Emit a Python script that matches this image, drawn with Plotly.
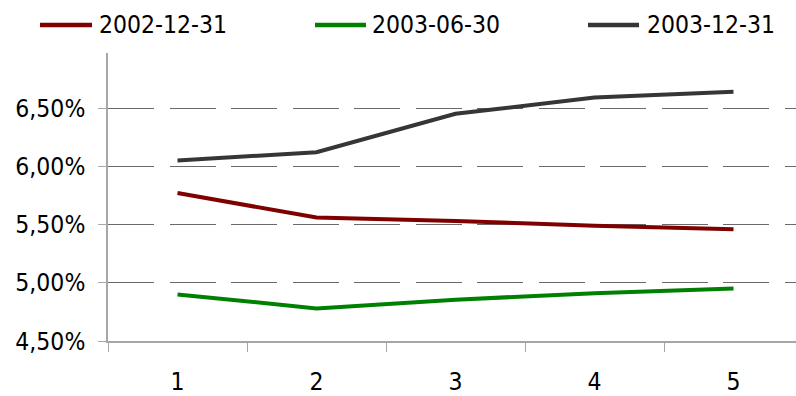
import plotly.graph_objects as go

# Maturity buckets (years) and yield curves at three dates, in percent
maturities = [1, 2, 3, 4, 5]
series_names = ["2002-12-31", "2003-06-30", "2003-12-31"]
yields_2002_12 = [5.77, 5.56, 5.53, 5.49, 5.46]
yields_2003_06 = [4.90, 4.78, 4.855, 4.91, 4.95]
yields_2003_12 = [6.05, 6.12, 6.45, 6.59, 6.64]
series_colors = ["#800000", "#008000", "#363636"]

y_ticks = [4.5, 5.0, 5.5, 6.0, 6.5]
y_tick_labels = ["4,50%", "5,00%", "5,50%", "6,00%", "6,50%"]

FONT = "DejaVu Sans Condensed, Liberation Sans Narrow, DejaVu Sans"
FONT_SIZE = 24.5
W, H = 796, 396
M_L, M_R, M_T, M_B = 108, 0, 53, 55
plot_w = W - M_L - M_R
plot_h = H - M_T - M_B

fig = go.Figure()
for name, vals, col in zip(series_names,
                           [yields_2002_12, yields_2003_06, yields_2003_12],
                           series_colors):
    fig.add_trace(go.Scatter(x=maturities, y=vals, name=name, mode="lines",
                             line=dict(color=col, width=4),
                             showlegend=False))

# Legend drawn as line swatches plus labels across the top
legend_x = [(40, 92, 97), (315, 366, 370), (588, 639, 645)]
legend_y = 25
to_px = lambda px: (px - M_L) / plot_w
to_py = lambda py: (H - M_B - py) / plot_h
for (x0, x1, xt), name, col in zip(legend_x, series_names, series_colors):
    fig.add_shape(type="line", xref="paper", yref="paper",
                  x0=to_px(x0), x1=to_px(x1), y0=to_py(legend_y), y1=to_py(legend_y),
                  line=dict(color=col, width=4.5))
    fig.add_annotation(xref="paper", yref="paper", x=to_px(xt), y=to_py(legend_y),
                       text=name, showarrow=False, xanchor="left", yanchor="middle",
                       font=dict(family=FONT, size=FONT_SIZE, color="#000000"))

px_per_unit_y = 116.5
fig.update_layout(
    width=W, height=H,
    margin=dict(l=M_L, r=M_R, t=M_T, b=M_B, pad=0),
    paper_bgcolor="white", plot_bgcolor="white",
    font=dict(family=FONT, size=FONT_SIZE, color="#000000"),
    xaxis=dict(
        range=[0.5, 0.5 + plot_w / 139.0],
        tickvals=maturities, ticktext=[str(m) for m in maturities],
        ticks="", showgrid=False, zeroline=False, automargin=False,
        showline=True, linecolor="#a6a6a6", linewidth=1.5,
        ticklabelstandoff=18,
        minor=dict(tickmode="array", tickvals=[0.5, 1.5, 2.5, 3.5, 4.5, 5.5],
                   ticks="outside", ticklen=9, tickcolor="#a6a6a6", tickwidth=1,
                   showgrid=False),
    ),
    yaxis=dict(
        range=[4.5, 4.5 + plot_h / px_per_unit_y],
        tickvals=y_ticks, ticktext=y_tick_labels, automargin=False,
        ticks="outside", ticklen=8, tickcolor="#a6a6a6", tickwidth=1,
        showline=True, linecolor="#a6a6a6", linewidth=1.5,
        showgrid=True, gridcolor="#6a6a6a", gridwidth=1.2, griddash="46px,15.5px",
        zeroline=False, ticklabelstandoff=8,
    ),
)

fig.write_html("out.html")
